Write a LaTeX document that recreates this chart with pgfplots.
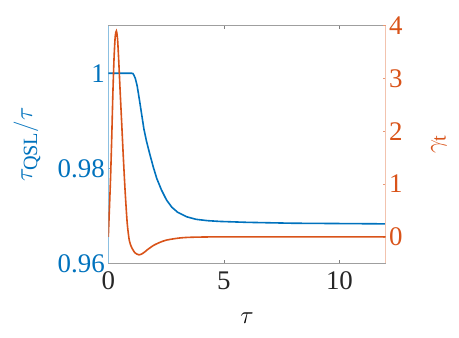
\documentclass[border=0pt]{standalone}
\usepackage{fontspec}
\setmainfont{Liberation Serif}
\usepackage{pgfplots}
\pgfplotsset{compat=1.18}
\definecolor{mblue}{RGB}{0,114,189}
\definecolor{morange}{RGB}{217,83,25}
\begin{document}
\begin{tikzpicture}
\useasboundingbox (-108.3bp,-74.7bp) rectangle (350.7bp,263.3bp);
\begin{axis}[
  scale only axis, width=277.4bp, height=237.6bp,
  at={(0,0)}, anchor=south west,
  xmin=0, xmax=12, ymin=0.96, ymax=1.01,
  xtick={0,5,10}, ytick={0.96,0.98,1}, yticklabels={0.96,0.98,1},
  xtick pos=both, ytick pos=left,
  tick align=inside, major tick length=3bp,
  separate axis lines,
  x axis line style={gray!75, line width=0.6bp},
  y axis line style={mblue!45, line width=0.6bp},
  xtick style={gray, line width=0.5bp},
  ytick style={mblue!60, line width=0.5bp},
  /pgf/number format/assume math mode=true,
  ticklabel style={font=\fontsize{27}{31}\selectfont},
  yticklabel style={text=mblue},
  xticklabel style={text=black!85, yshift=-5bp},
  xlabel={$\tau$},
  xlabel style={font=\fontsize{29}{33}\selectfont, at={(axis description cs:0.5,-0.23)}, anchor=center},
  ylabel={$\tau_{\mathrm{QSL}}/\tau$},
  ylabel style={font=\fontsize{29}{33}\selectfont, text=mblue, at={(axis description cs:-0.293,0.5)}, anchor=center},
]
\addplot[mblue, line width=1.6bp] coordinates {
(0,1) (1.0,1) (1.06,0.99995) (1.1,0.99968) (1.17,0.99889) (1.25,0.99731) (1.35,0.99429)
(1.45,0.99112) (1.54,0.98827) (1.65,0.98574) (1.8,0.98288) (1.95,0.98019)
(2.1,0.97781) (2.3,0.97543) (2.52,0.97331) (2.75,0.97179) (3.0,0.97074)
(3.39,0.96979) (3.8,0.96925) (4.3,0.96897) (4.83,0.96881) (6,0.96862)
(8,0.96843) (12,0.9683)
};
\end{axis}
\begin{axis}[
  scale only axis, width=277.4bp, height=237.6bp,
  at={(0,0)}, anchor=south west,
  xmin=0, xmax=12, ymin=-0.5, ymax=4,
  axis x line=none, axis y line*=right,
  ytick={0,1,2,3,4},
  tick align=inside, major tick length=3bp,
  y axis line style={morange!35, line width=0.8bp, -},
  ytick style={morange!60, line width=0.5bp},
  /pgf/number format/assume math mode=true,
  yticklabel style={font=\fontsize{27}{31}\selectfont, text=morange},
  ylabel={$\gamma_{\mathrm{t}}$},
  ylabel style={font=\fontsize{29}{33}\selectfont, text=morange, at={(axis description cs:1.192,0.5)}, anchor=center},
]
\addplot[morange, line width=1.6bp, smooth, tension=0.4] coordinates {
(0,0) (0.05,0.55) (0.1,1.15) (0.15,1.9) (0.2,2.75) (0.25,3.4) (0.3,3.8)
(0.35,3.9) (0.4,3.75) (0.45,3.35) (0.51,2.78) (0.58,2.15) (0.65,1.51)
(0.73,0.85) (0.82,0.25) (0.91,-0.07) (1.01,-0.2) (1.15,-0.3) (1.33,-0.34)
(1.5,-0.31) (1.7,-0.24) (1.96,-0.16) (2.25,-0.1) (2.52,-0.06) (3.0,-0.025)
(3.4,-0.01) (4,-0.003) (5,0) (12,0)
};
\end{axis}
\end{tikzpicture}
\end{document}
